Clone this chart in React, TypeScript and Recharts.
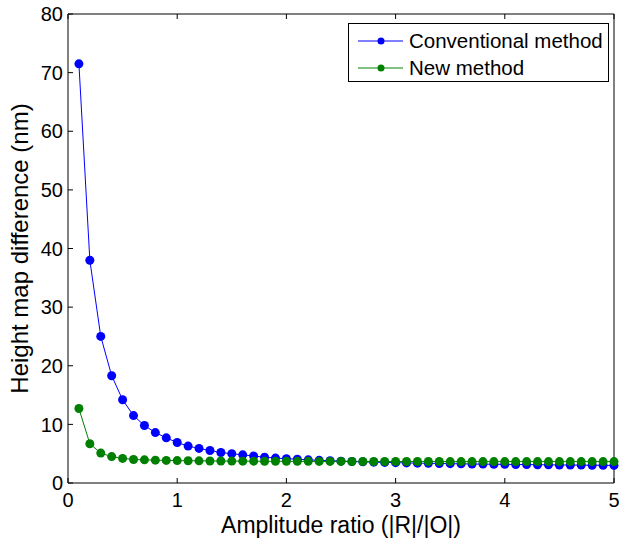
import React from 'react';
import { LineChart, Line, XAxis, YAxis, Legend } from 'recharts';

const amplitudeRatio = [
  0.1, 0.2, 0.3, 0.4, 0.5, 0.6, 0.7, 0.8, 0.9, 1.0,
  1.1, 1.2, 1.3, 1.4, 1.5, 1.6, 1.7, 1.8, 1.9, 2.0,
  2.1, 2.2, 2.3, 2.4, 2.5, 2.6, 2.7, 2.8, 2.9, 3.0,
  3.1, 3.2, 3.3, 3.4, 3.5, 3.6, 3.7, 3.8, 3.9, 4.0,
  4.1, 4.2, 4.3, 4.4, 4.5, 4.6, 4.7, 4.8, 4.9, 5.0,
];

const conventional = [
  71.5, 38.0, 25.0, 18.3, 14.2, 11.5, 9.8, 8.6, 7.7, 6.9,
  6.3, 5.9, 5.55, 5.2, 5.0, 4.8, 4.6, 4.4, 4.25, 4.15,
  4.05, 3.95, 3.87, 3.8, 3.73, 3.67, 3.61, 3.56, 3.51, 3.47,
  3.43, 3.39, 3.36, 3.33, 3.3, 3.27, 3.24, 3.22, 3.2, 3.18,
  3.16, 3.14, 3.12, 3.1, 3.08, 3.06, 3.05, 3.03, 3.02, 3.0,
];

const newMethod = [
  12.7, 6.7, 5.1, 4.5, 4.2, 4.0, 3.95, 3.9, 3.85, 3.82,
  3.8, 3.78, 3.76, 3.75, 3.74, 3.73, 3.72, 3.71, 3.7, 3.7,
  3.69, 3.69, 3.68, 3.68, 3.68, 3.67, 3.67, 3.67, 3.67, 3.66,
  3.66, 3.66, 3.66, 3.66, 3.65, 3.65, 3.65, 3.65, 3.65, 3.65,
  3.65, 3.65, 3.65, 3.65, 3.65, 3.65, 3.65, 3.65, 3.65, 3.65,
];

const xTicks = [0, 1, 2, 3, 4, 5];
const yTicks = [0, 10, 20, 30, 40, 50, 60, 70, 80];

const BLUE = '#0000ff';
const GREEN = '#008000';
const FONT = '"Liberation Sans", Arial, Helvetica, sans-serif';

const data = amplitudeRatio.map((r, i) => ({
  ratio: r,
  conventional: conventional[i],
  newMethod: newMethod[i],
}));

const BottomTick = (props: any) => {
  const { x, y, payload } = props;
  return (
    <g>
      <line x1={x} x2={x} y1={y} y2={y - 5} stroke="#000" />
      <text x={x} y={y + 24} textAnchor="middle" fontSize={20} fill="#000" fontFamily={FONT}>
        {payload.value}
      </text>
    </g>
  );
};

const TopTick = (props: any) => {
  const { x, y } = props;
  return <line x1={x} x2={x} y1={y} y2={y + 5} stroke="#000" />;
};

const LeftTick = (props: any) => {
  const { x, y, payload } = props;
  return (
    <g>
      <line x1={x} x2={x + 5} y1={y} y2={y} stroke="#000" />
      <text x={x - 5} y={y} dy="0.36em" textAnchor="end" fontSize={20} fill="#000" fontFamily={FONT}>
        {payload.value}
      </text>
    </g>
  );
};

const RightTick = (props: any) => {
  const { x, y } = props;
  return <line x1={x} x2={x - 5} y1={y} y2={y} stroke="#000" />;
};

const yLabel = (props: any) => {
  const vb = props.viewBox;
  const cx = 28;
  const cy = vb.y + vb.height / 2;
  return (
    <text
      x={cx}
      y={cy}
      transform={`rotate(-90 ${cx} ${cy})`}
      textAnchor="middle"
      fontSize={24}
      fill="#000"
      fontFamily={FONT}
    >
      Height map difference (nm)
    </text>
  );
};

const xLabel = (props: any) => {
  const vb = props.viewBox;
  return (
    <text x={vb.x + vb.width / 2} y={vb.y + 50} textAnchor="middle" fontSize={23} fill="#000" fontFamily={FONT}>
      Amplitude ratio (|R|/|O|)
    </text>
  );
};

const legendItems = [
  { label: 'Conventional method', color: BLUE },
  { label: 'New method', color: GREEN },
];

const renderLegend = () => (
  <div
    style={{
      width: 261,
      height: 59,
      boxSizing: 'border-box',
      border: '1px solid #000',
      background: '#fff',
      paddingTop: 3,
      paddingLeft: 9,
      fontFamily: FONT,
      fontSize: 20.5,
      color: '#000',
    }}
  >
    {legendItems.map((it) => (
      <div key={it.label} style={{ height: 27, display: 'flex', alignItems: 'center' }}>
        <svg width={45} height={12} style={{ marginRight: 6 }}>
          <line x1={0} x2={45} y1={6} y2={6} stroke={it.color} strokeWidth={1} />
          <circle cx={23} cy={6} r={3.5} fill={it.color} />
        </svg>
        <span>{it.label}</span>
      </div>
    ))}
  </div>
);

export default function App() {
  return (
    <div style={{ position: 'absolute', left: 0, top: 0, width: 619, height: 540, background: '#fff' }}>
      <LineChart width={619} height={540} data={data} margin={{ top: 13, right: 4, bottom: 0, left: 0 }}>
        <XAxis
          dataKey="ratio"
          type="number"
          domain={[0, 5]}
          ticks={xTicks}
          height={57}
          stroke="#000"
          tickSize={0}
          tickMargin={0}
          tickLine={false}
          tick={BottomTick}
          label={xLabel}
        />
        <XAxis
          xAxisId="top"
          orientation="top"
          dataKey="ratio"
          type="number"
          domain={[0, 5]}
          ticks={xTicks}
          height={1}
          stroke="#000"
          tickSize={0}
          tickMargin={0}
          tickLine={false}
          tick={TopTick}
        />
        <YAxis
          type="number"
          domain={[0, 80]}
          ticks={yTicks}
          width={68}
          stroke="#000"
          tickSize={0}
          tickMargin={0}
          tickLine={false}
          tick={LeftTick}
          label={yLabel}
        />
        <YAxis
          yAxisId="right"
          orientation="right"
          type="number"
          domain={[0, 80]}
          ticks={yTicks}
          width={1}
          stroke="#000"
          tickSize={0}
          tickMargin={0}
          tickLine={false}
          tick={RightTick}
        />
        <Legend
          layout="horizontal"
          verticalAlign="middle"
          align="center"
          wrapperStyle={{ left: 348, top: 23, right: 'auto', bottom: 'auto', width: 261 }}
          content={renderLegend}
        />
        <Line
          type="linear"
          dataKey="conventional"
          stroke={BLUE}
          strokeWidth={1}
          dot={{ r: 4.5, fill: BLUE, stroke: BLUE, strokeWidth: 0 }}
          isAnimationActive={false}
        />
        <Line
          type="linear"
          dataKey="newMethod"
          stroke={GREEN}
          strokeWidth={1}
          dot={{ r: 4.5, fill: GREEN, stroke: GREEN, strokeWidth: 0 }}
          isAnimationActive={false}
        />
      </LineChart>
    </div>
  );
}
